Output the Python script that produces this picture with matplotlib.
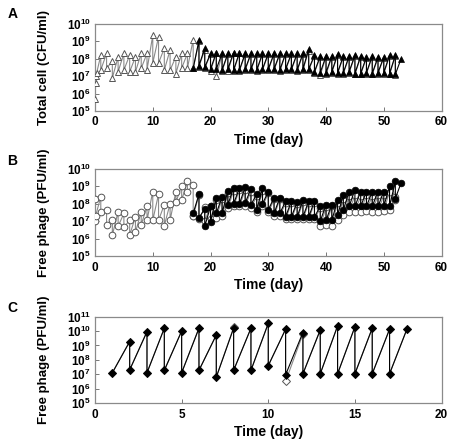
import matplotlib
matplotlib.use("Agg")
import matplotlib.pyplot as plt
from matplotlib.ticker import FixedLocator, LogLocator, NullFormatter
import numpy as np

plt.rcParams['font.family'] = ['Liberation Sans', 'DejaVu Sans']
plt.rcParams['font.weight'] = 'bold'
plt.rcParams['mathtext.fontset'] = 'custom'
plt.rcParams['mathtext.rm'] = 'Liberation Sans:bold'
plt.rcParams['mathtext.bf'] = 'Liberation Sans:bold'

# values are log10 of the counts
# panel A - total cells, open triangles (first run)
a_open_start_x = [0, 0.1, 0.2, 0.3]
a_open_start_y = [5.7, 6.6, 7.0, 7.2]
a_open_days = list(range(1, 18))
a_open_hi = [8.2, 8.3, 7.85, 8.1, 8.3, 8.2, 8.1, 8.3, 8.3, 9.35, 9.25, 8.6, 8.5, 8.1, 8.3, 8.3, 9.1]
a_open_lo = [7.35, 7.45, 6.9, 7.25, 7.35, 7.25, 7.25, 7.45, 7.35, 7.75, 7.75, 7.35, 7.35, 7.15, 7.45, 7.45, 7.45]
# open triangles hidden behind the filled ones, days 18-52
a_open2_days = list(range(18, 53))
a_open2_hi = [9.0, 8.5, 8.25, 8.3, 8.25, 8.25, 8.3, 8.3, 8.25, 8.25, 8.25, 8.25, 8.25, 8.25, 8.25, 8.25, 8.25, 8.25,
              8.25, 8.45, 8.15, 8.1, 8.1, 8.1, 8.2, 8.1, 8.1, 8.15, 8.1, 8.05, 8.1, 8.05, 8.05, 8.15, 8.15]
a_open2_lo = [7.55, 7.45, 7.3, 7.0, 7.3, 7.3, 7.3, 7.3, 7.35, 7.35, 7.3, 7.35, 7.35, 7.35, 7.3, 7.35, 7.35, 7.3,
              7.35, 7.35, 7.2, 7.05, 7.1, 7.2, 7.15, 7.15, 7.2, 7.1, 7.1, 7.15, 7.1, 7.15, 7.15, 7.1, 7.05]
# filled triangles
a_fill_first = (17, 7.45)
a_fill_days = list(range(18, 53))
a_fill_hi = [9.05, 8.6, 8.3, 8.35, 8.3, 8.3, 8.35, 8.35, 8.3, 8.3, 8.3, 8.3, 8.3, 8.3, 8.3, 8.3, 8.3, 8.3,
             8.3, 8.55, 8.2, 8.15, 8.15, 8.15, 8.25, 8.15, 8.15, 8.2, 8.15, 8.1, 8.15, 8.1, 8.1, 8.2, 8.2]
a_fill_lo = [7.6, 7.5, 7.4, 7.4, 7.35, 7.4, 7.35, 7.35, 7.4, 7.4, 7.35, 7.4, 7.4, 7.4, 7.35, 7.4, 7.4, 7.35,
             7.4, 7.4, 7.25, 7.2, 7.2, 7.25, 7.2, 7.2, 7.25, 7.15, 7.15, 7.2, 7.15, 7.2, 7.2, 7.15, 7.1]
a_fill_last = (53, 8.0)

# panel B - free phage, open circles
b_open_start_x = [0, 0, 0.1]
b_open_start_y = [8.3, 7.0, 7.3]
b_open_days = list(range(1, 18))
b_open_hi = [8.4, 7.65, 7.05, 7.55, 7.45, 7.05, 7.25, 7.55, 7.85, 8.7, 8.55, 7.95, 8.0, 8.7, 9.0, 9.3, 9.1]
b_open_lo = [7.55, 6.8, 6.2, 6.7, 6.65, 6.2, 6.35, 6.8, 7.05, 7.05, 7.05, 6.75, 7.05, 8.1, 8.2, 8.7, 7.3]
b_open2_days = list(range(18, 53))
b_open2_hi = [8.5, 7.8, 7.9, 8.2, 8.3, 8.6, 8.75, 8.8, 8.8, 8.7, 8.45, 8.75, 8.6, 8.25, 8.25, 8.05, 8.05, 8.0,
              8.1, 8.05, 8.05, 7.75, 7.8, 7.85, 8.05, 8.3, 8.45, 8.5, 8.45, 8.5, 8.45, 8.5, 8.5, 8.7, 8.4]
b_open2_lo = [7.1, 7.0, 7.1, 7.2, 7.3, 7.75, 7.85, 7.85, 7.9, 7.75, 7.5, 7.85, 7.5, 7.3, 7.3, 7.1, 7.1, 7.1,
              7.1, 7.1, 7.1, 6.7, 6.8, 6.75, 7.05, 7.35, 7.55, 7.55, 7.55, 7.6, 7.55, 7.55, 7.6, 7.65, 8.2]
b_fill_first = (17, 7.45)
b_fill_days = list(range(18, 53))
b_fill_hi = [8.55, 7.7, 7.85, 8.35, 8.4, 8.75, 8.9, 8.9, 8.95, 8.85, 8.55, 8.9, 8.7, 8.35, 8.35, 8.15, 8.15, 8.1,
             8.2, 8.15, 8.15, 7.85, 7.95, 7.95, 8.2, 8.5, 8.7, 8.8, 8.7, 8.7, 8.7, 8.7, 8.7, 9.0, 9.3]
b_fill_lo = [7.2, 6.7, 6.95, 7.45, 7.45, 7.95, 8.0, 8.0, 8.05, 7.95, 7.65, 8.0, 7.65, 7.45, 7.45, 7.25, 7.25, 7.25,
             7.25, 7.25, 7.25, 7.0, 7.05, 7.05, 7.35, 7.65, 7.85, 7.85, 7.85, 7.85, 7.85, 7.85, 7.85, 7.85, 8.3]
b_fill_last = (53, 9.2)

# panel C - free phage, diamonds
c_first = (1, 7.1)
c_days = list(range(2, 18))
c_fill_hi = [9.27, 9.96, 10.2, 10.0, 10.2, 9.73, 10.2, 10.2, 10.54, 10.13, 9.9, 10.08, 10.36, 10.3, 10.2, 10.13]
c_fill_lo = [7.3, 7.1, 7.27, 7.1, 7.27, 6.8, 7.27, 7.27, 7.6, 6.96, 7.03, 7.03, 7.03, 7.03, 7.03, 7.03]
c_open_hi = [9.27, 9.96, 10.2, 10.0, 10.2, 9.73, 10.25, 10.2, 10.54, 10.13, 9.8, 10.08, 10.36, 10.3, 10.2, 10.13]
c_open_lo = [7.3, 7.1, 7.27, 7.1, 7.27, 6.8, 7.27, 7.27, 7.6, 6.5, 7.03, 7.03, 7.03, 7.03, 7.03, 7.03]
c_last = (18, 10.13)


def sawtooth(days, hi, lo):
    # each day: value before dilution then value after dilution
    x, y = [], []
    for d, h, l in zip(days, hi, lo):
        x += [d, d]
        y += [h, l]
    return x, y


def draw(ax, x, y, marker, filled, ms, z):
    y = 10 ** np.array(y, dtype=float)
    if filled:
        ax.plot(x, y, '-', color='black', lw=0.8, marker=marker, ms=ms,
                mfc='black', mec='black', mew=0.5, zorder=z)
    else:
        ax.plot(x, y, '-', color='#8a8a8a', lw=0.8, marker=marker, ms=ms,
                mfc='white', mec='#555555', mew=0.7, zorder=z)


def style(ax, xmax, xstep, ymax, ylabel):
    ax.set_yscale('log')
    ax.set_xlim(0, xmax)
    ax.set_ylim(1e5, 10.0 ** ymax)
    ax.xaxis.set_major_locator(FixedLocator(np.arange(0, xmax + 1, xstep)))
    ax.set_xticklabels([str(int(v)) for v in np.arange(0, xmax + 1, xstep)], fontsize=8.5, fontweight='bold')
    exps = list(range(5, ymax + 1))
    ax.yaxis.set_major_locator(FixedLocator([10.0 ** e for e in exps]))
    ax.set_yticklabels([r'$\mathbf{10^{%d}}$' % e for e in exps], fontsize=8.5)
    ax.yaxis.set_minor_locator(LogLocator(base=10, subs=np.arange(2, 10)))
    ax.yaxis.set_minor_formatter(NullFormatter())
    ax.tick_params(axis='both', which='both', direction='in', color='#777777', width=0.7)
    ax.tick_params(axis='y', which='major', length=3, pad=3)
    ax.tick_params(axis='y', which='minor', length=1.5)
    ax.tick_params(axis='x', which='major', length=3, pad=4)
    for s in ax.spines.values():
        s.set_color('#8a8a8a')
        s.set_linewidth(0.9)
    ax.set_xlabel('Time (day)', fontsize=10, fontweight='bold', labelpad=3)
    ax.set_ylabel(ylabel, fontsize=9.5, fontweight='bold')
    ax.yaxis.set_label_coords(-0.13, 0.5)


fig = plt.figure(figsize=(4.76, 4.42), dpi=100)
axA = fig.add_axes([0.1996, 0.749, 0.728, 0.197])
axB = fig.add_axes([0.1996, 0.4208, 0.728, 0.197])
axC = fig.add_axes([0.1996, 0.0882, 0.728, 0.1953])

# panel A
x, y = sawtooth(a_open_days, a_open_hi, a_open_lo)
draw(axA, a_open_start_x + x, a_open_start_y + y, '^', False, 4.4, 3)
x2, y2 = sawtooth(a_open2_days, a_open2_hi, a_open2_lo)
draw(axA, [x[-1]] + x2, [y[-1]] + y2, '^', False, 4.4, 2)
x, y = sawtooth(a_fill_days, a_fill_hi, a_fill_lo)
draw(axA, [a_fill_first[0]] + x + [a_fill_last[0]], [a_fill_first[1]] + y + [a_fill_last[1]], '^', True, 4.4, 4)
style(axA, 60, 10, 10, 'Total cell (CFU/ml)')

# panel B
x, y = sawtooth(b_open_days, b_open_hi, b_open_lo)
draw(axB, b_open_start_x + x, b_open_start_y + y, 'o', False, 4.8, 3)
x2, y2 = sawtooth(b_open2_days, b_open2_hi, b_open2_lo)
draw(axB, [x[-1]] + x2, [y[-1]] + y2, 'o', False, 4.8, 2)
x, y = sawtooth(b_fill_days, b_fill_hi, b_fill_lo)
draw(axB, [b_fill_first[0]] + x + [b_fill_last[0]], [b_fill_first[1]] + y + [b_fill_last[1]], 'o', True, 4.8, 4)
style(axB, 60, 10, 10, 'Free phage (PFU/ml)')

# panel C
x, y = sawtooth(c_days, c_open_hi, c_open_lo)
draw(axC, [c_first[0]] + x + [c_last[0]], [c_first[1]] + y + [c_last[1]], 'D', False, 3.6, 3)
x, y = sawtooth(c_days, c_fill_hi, c_fill_lo)
draw(axC, [c_first[0]] + x + [c_last[0]], [c_first[1]] + y + [c_last[1]], 'D', True, 3.6, 4)
style(axC, 20, 5, 11, 'Free phage (PFU/ml)')

for lab, ypos in [('A', 0.985), ('B', 0.652), ('C', 0.318)]:
    fig.text(0.016, ypos, lab, fontsize=10, fontweight='bold', va='top')

fig.savefig('out.png', dpi=100)
